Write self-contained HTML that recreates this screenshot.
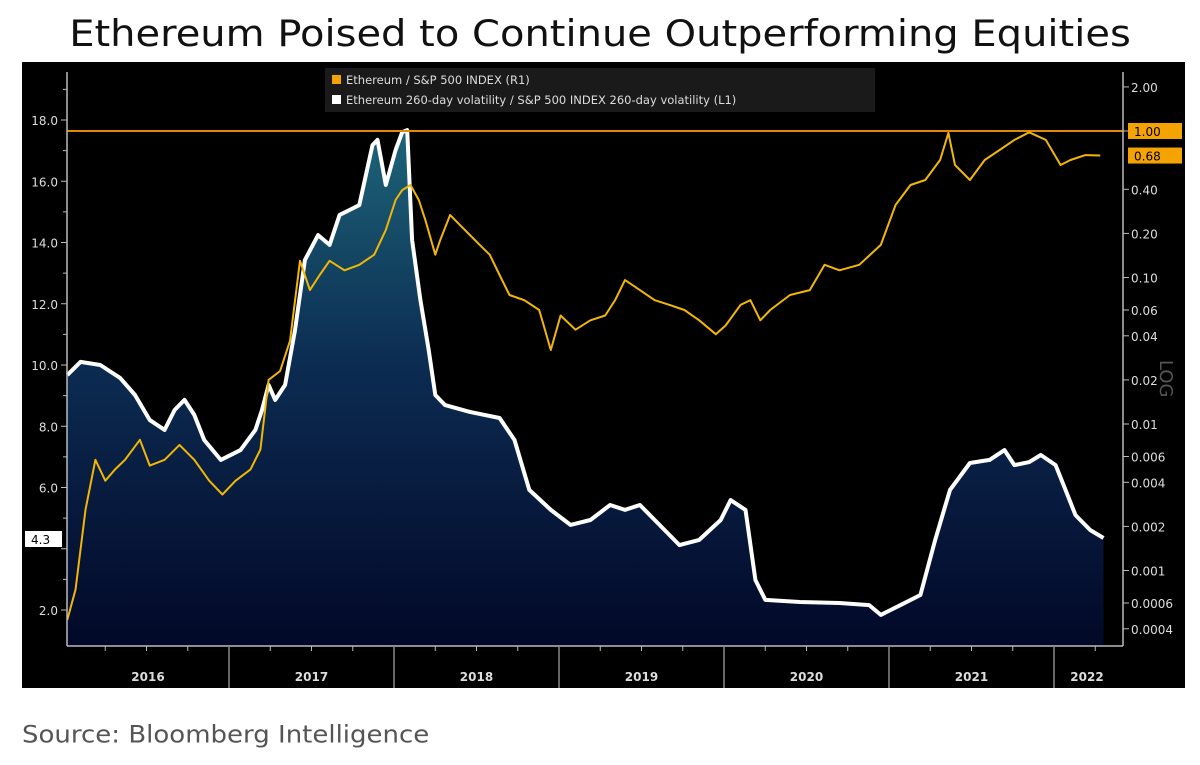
<!DOCTYPE html>
<html><head><meta charset="utf-8"><style>
body{margin:0;background:#fff;width:1200px;height:765px;overflow:hidden;font-family:"DejaVu Sans","Liberation Sans",sans-serif}
#title{position:absolute;left:0;top:11px;width:1200px;text-align:center;font-size:40px;color:#111;white-space:nowrap;transform:scaleY(0.92)}
#src{position:absolute;left:22px;top:720px;font-size:26px;color:#555;transform-origin:left;transform:scaleY(0.92)}
svg{position:absolute;left:0;top:0}
</style></head><body>
<div id="title">Ethereum Poised to Continue Outperforming Equities</div>
<svg id="c" width="1200" height="765" font-family="DejaVu Sans, sans-serif"></svg>
<div id="src">Source: Bloomberg Intelligence</div>
<script>
const volDates=[2016.02,2016.10,2016.22,2016.34,2016.43,2016.52,2016.61,2016.67,2016.73,2016.79,2016.85,2016.95,2017.07,2017.16,2017.20,2017.24,2017.28,2017.34,2017.40,2017.46,2017.54,2017.61,2017.67,2017.73,2017.79,2017.87,2017.90,2017.95,2018.01,2018.05,2018.08,2018.11,2018.16,2018.21,2018.25,2018.31,2018.46,2018.64,2018.73,2018.82,2018.95,2019.07,2019.19,2019.31,2019.40,2019.49,2019.58,2019.73,2019.85,2019.98,2020.04,2020.13,2020.19,2020.25,2020.46,2020.70,2020.88,2020.95,2021.01,2021.07,2021.19,2021.28,2021.37,2021.49,2021.61,2021.70,2021.76,2021.85,2021.92,2022.01,2022.07,2022.13,2022.22,2022.30];
const volValues=[9.67,10.1,10.0,9.58,9.02,8.2,7.88,8.53,8.86,8.37,7.55,6.9,7.22,7.88,8.53,9.35,8.86,9.35,11.14,13.43,14.24,13.92,14.9,15.06,15.22,17.18,17.35,15.88,17.02,17.6,17.67,14.08,12.12,10.49,9.02,8.69,8.47,8.27,7.55,5.92,5.27,4.78,4.94,5.43,5.27,5.43,4.94,4.12,4.29,4.94,5.59,5.27,2.98,2.33,2.26,2.23,2.16,1.84,2.0,2.16,2.49,4.29,5.92,6.8,6.9,7.22,6.73,6.83,7.06,6.73,5.92,5.1,4.61,4.35];
const ratioDates=[2016.02,2016.07,2016.13,2016.19,2016.25,2016.31,2016.37,2016.46,2016.52,2016.61,2016.70,2016.79,2016.88,2016.96,2017.04,2017.13,2017.19,2017.24,2017.31,2017.37,2017.43,2017.49,2017.55,2017.61,2017.70,2017.79,2017.88,2017.95,2018.01,2018.05,2018.10,2018.15,2018.19,2018.25,2018.28,2018.34,2018.40,2018.46,2018.52,2018.58,2018.64,2018.70,2018.79,2018.88,2018.95,2019.01,2019.10,2019.19,2019.28,2019.34,2019.40,2019.49,2019.58,2019.67,2019.76,2019.85,2019.95,2020.01,2020.10,2020.16,2020.22,2020.28,2020.40,2020.52,2020.61,2020.70,2020.82,2020.95,2021.04,2021.13,2021.22,2021.31,2021.36,2021.40,2021.49,2021.58,2021.67,2021.76,2021.85,2021.95,2022.04,2022.10,2022.19,2022.28];
const ratioValues=[0.00046,0.00074,0.0026,0.0057,0.0041,0.0049,0.0057,0.0078,0.0052,0.0057,0.0072,0.0057,0.0041,0.0033,0.0041,0.0049,0.0067,0.020,0.023,0.037,0.13,0.082,0.104,0.13,0.112,0.122,0.143,0.211,0.338,0.395,0.428,0.338,0.246,0.143,0.180,0.267,0.228,0.195,0.167,0.143,0.104,0.076,0.070,0.060,0.032,0.055,0.044,0.051,0.055,0.070,0.096,0.082,0.070,0.065,0.060,0.051,0.041,0.047,0.065,0.070,0.051,0.060,0.076,0.082,0.122,0.112,0.122,0.167,0.313,0.428,0.463,0.634,0.97,0.586,0.463,0.634,0.742,0.869,0.98,0.869,0.586,0.634,0.685,0.68];
const leftTicks=[2,4,6,8,10,12,14,16,18];
const rightTicks=[2,1,0.4,0.2,0.1,0.06,0.04,0.02,0.01,0.006,0.004,0.002,0.001,0.0006,0.0004];
const rightLabels=["2.00","","0.40","0.20","0.10","0.06","0.04","0.02","0.01","0.006","0.004","0.002","0.001","0.0006","0.0004"];
const years=[2016,2017,2018,2019,2020,2021,2022];

const X=t=>229+(t-2017)*165;
const YL=v=>610-(v-2)*30.625;
const YR=v=>131-Math.log10(v)*146.5;
const svg=document.getElementById('c');const NS='http://www.w3.org/2000/svg';
function mk(tag,a,parent){const e=document.createElementNS(NS,tag);for(const k in a)e.setAttribute(k,a[k]);(parent||svg).appendChild(e);return e;}
const defs=mk('defs',{});
const g=mk('linearGradient',{id:'gr',x1:0,y1:130,x2:0,y2:646,gradientUnits:'userSpaceOnUse'},defs);
mk('stop',{offset:'0','stop-color':'#1d6478'},g);mk('stop',{offset:'0.45','stop-color':'#0c2c52'},g);mk('stop',{offset:'1','stop-color':'#020828'},g);

const bg=mk('rect',{x:22,y:62,width:1163,height:626,fill:'#000'});


let pts=volDates.map((d,i)=>X(d).toFixed(1)+','+YL(volValues[i]).toFixed(1));
const area=mk('polygon',{points:X(volDates[0])+',646 '+pts.join(' ')+' '+X(volDates[volDates.length-1])+',646',fill:'url(#gr)'});

const vl=mk('polyline',{points:pts.join(' '),fill:'none',stroke:'#fff','stroke-width':4,'stroke-linejoin':'round'});


const hl=mk('line',{x1:67,x2:1123,y1:YR(1),y2:YR(1),stroke:'#e08a00','stroke-width':2});


const rl=mk('polyline',{points:ratioDates.map((d,i)=>X(d).toFixed(1)+','+YR(ratioValues[i]).toFixed(1)).join(' '),fill:'none',stroke:'#f2b705','stroke-width':2,'stroke-linejoin':'round'});


mk('line',{x1:67,x2:67,y1:72,y2:646,stroke:'#bbb','stroke-width':1.5});
mk('line',{x1:1123,x2:1123,y1:72,y2:646,stroke:'#bbb','stroke-width':1.5});
mk('line',{x1:67,x2:1123,y1:646,y2:646,stroke:'#bbb','stroke-width':1.5});
leftTicks.forEach(v=>{
 mk('line',{x1:61,x2:67,y1:YL(v),y2:YL(v),stroke:'#bbb'});
 if(v!==4){const t=mk('text',{x:58,y:YL(v)+5,'text-anchor':'end','font-size':12,fill:'#ddd'});t.textContent=v.toFixed(1);
 }
 mk('line',{x1:63,x2:67,y1:YL(v+1),y2:YL(v+1),stroke:'#bbb'});
});
rightTicks.forEach((v,i)=>{
 mk('line',{x1:1123,x2:1129,y1:YR(v),y2:YR(v),stroke:'#bbb'});
 if(rightLabels[i]){const t=mk('text',{x:1131,y:YR(v)+5,'font-size':12,fill:'#ddd'});t.textContent=rightLabels[i];
 }
});
years.forEach((y,i)=>{
 const x0=Math.max(X(y),67),x1=Math.min(X(y+1),1123);
 if(i>0){mk('line',{x1:X(y),x2:X(y),y1:646,y2:688,stroke:'#888','stroke-width':1.5});}
 for(let q=1;q<4;q++){const xq=X(y+q/4);if(xq>67&&xq<1123)mk('line',{x1:xq,x2:xq,y1:646,y2:651,stroke:'#bbb'});}
 const t=mk('text',{x:y===2022?1087:(x0+x1)/2,y:681,'text-anchor':'middle','font-size':12,fill:'#ddd','font-weight':'bold'});t.textContent=y;
 
});

function tag(x,y,w,txt,fill,col,name){const gg=mk('g',{});
 mk('rect',{x:x,y:y,width:w,height:16,fill:fill},gg);const t=mk('text',{x:x+6,y:y+13,'font-size':12,fill:col},gg);t.textContent=txt;}
tag(1128,YR(1)-8,54,'1.00','#f5a300','#000','last-value-tag-1');
tag(1128,YR(0.68)-8,54,'0.68','#f5a300','#000','ratio-last-value-tag');
tag(25,531,37,'4.3','#fff','#000','volatility-last-value-tag');

const lg=mk('g',{});
mk('rect',{x:325,y:68,width:550,height:44,fill:'#1a1a1a'},lg);
mk('rect',{x:332,y:75,width:9,height:9,fill:'#f5a300'},lg);
mk('rect',{x:332,y:95,width:9,height:9,fill:'#fff'},lg);
let t1=mk('text',{x:346,y:84,'font-size':11.5,fill:'#ddd'},lg);t1.textContent='Ethereum / S&P 500 INDEX (R1)';

let t2=mk('text',{x:346,y:104,'font-size':11.5,fill:'#ddd'},lg);t2.textContent='Ethereum 260-day volatility / S&P 500 INDEX 260-day volatility (L1)';

let lgt=mk('text',{x:1160,y:360,'font-size':18,fill:'#555',transform:'rotate(90 1160 360)'});lgt.textContent='LOG';

</script>
</body></html>
